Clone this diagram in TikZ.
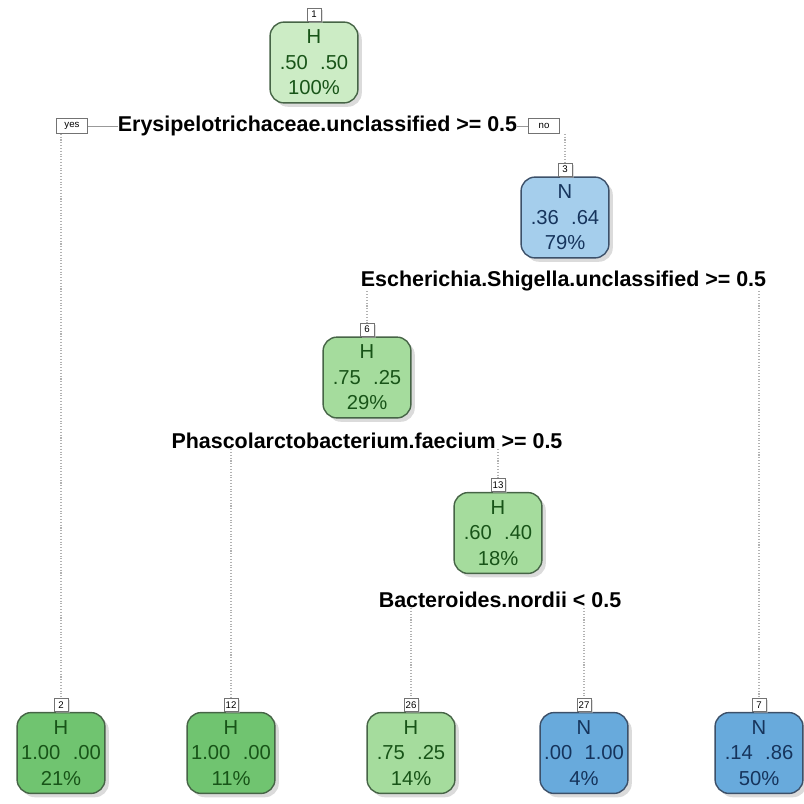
\documentclass[tikz,border=0pt]{standalone}
\usepackage{fontspec}
\setmainfont{Liberation Sans}
\usepackage{xcolor}
\usetikzlibrary{shadows}
\definecolor{gnroot}{RGB}{204,236,197}
\definecolor{gnmid}{RGB}{165,220,157}
\definecolor{gnleaf}{RGB}{112,196,112}
\definecolor{gntext}{RGB}{24,84,24}
\definecolor{gnborder}{RGB}{70,100,70}
\definecolor{blroot}{RGB}{165,206,236}
\definecolor{blleaf}{RGB}{104,170,220}
\definecolor{bltext}{RGB}{22,52,92}
\definecolor{blborder}{RGB}{60,80,105}

\begin{document}
\begin{tikzpicture}[scale=0.2]
\tikzstyle{every node}+=[inner sep=0pt]
\tikzstyle{treebox}=[draw, rounded corners=8pt, minimum width=50pt, minimum height=46pt, align=center, line width=0.8pt, font=\fontsize{11.5}{14.5}\selectfont, drop shadow={shadow xshift=2.2pt, shadow yshift=-2.2pt, fill=black!28}]
\tikzstyle{hbox}=[treebox, text=gntext, draw=gnborder]
\tikzstyle{nbox}=[treebox, text=bltext, draw=blborder]
\tikzstyle{numbox}=[draw=black!55, fill=white, minimum width=8pt, minimum height=7.5pt, font=\fontsize{5.5}{5.5}\selectfont, drop shadow={shadow xshift=1pt, shadow yshift=-1pt, fill=black!25}]
\tikzstyle{yesno}=[draw=black!55, fill=white, minimum width=18pt, minimum height=8.5pt, font=\fontsize{5.5}{6}\selectfont]
\tikzstyle{splittext}=[font=\bfseries\fontsize{12.2}{14}\selectfont]
\tikzstyle{branch}=[black!30, densely dotted, line width=0.6pt]
\useasboundingbox (0,0) rectangle (80.4,-80.3);
\node [hbox, fill=gnroot] (n1) at (31.4,-6.25) {H\\.50\hspace{7pt}.50\\100\%};
\node [nbox, fill=blroot] (n3) at (56.5,-21.75) {N\\.36\hspace{7pt}.64\\79\%};
\node [hbox, fill=gnmid] (n6) at (36.7,-37.75) {H\\.75\hspace{7pt}.25\\29\%};
\node [hbox, fill=gnmid] (n13) at (49.8,-53.3) {H\\.60\hspace{7pt}.40\\18\%};
\node [hbox, fill=gnleaf] (n2) at (6.1,-75.3) {H\\1.00\hspace{7pt}.00\\21\%};
\node [hbox, fill=gnleaf] (n12) at (23.1,-75.3) {H\\1.00\hspace{7pt}.00\\11\%};
\node [hbox, fill=gnmid] (n26) at (41.1,-75.3) {H\\.75\hspace{7pt}.25\\14\%};
\node [nbox, fill=blleaf] (n27) at (58.4,-75.3) {N\\.00\hspace{7pt}1.00\\4\%};
\node [nbox, fill=blleaf] (n7) at (75.9,-75.3) {N\\.14\hspace{7pt}.86\\50\%};
\node [numbox, anchor=south] (l1) at (n1.north) {1};
\node [numbox, anchor=south] (l3) at (n3.north) {3};
\node [numbox, anchor=south] (l6) at (n6.north) {6};
\node [numbox, anchor=south] (l13) at (n13.north) {13};
\node [numbox, anchor=south] (l2) at (n2.north) {2};
\node [numbox, anchor=south] (l12) at (n12.north) {12};
\node [numbox, anchor=south] (l26) at (n26.north) {26};
\node [numbox, anchor=south] (l27) at (n27.north) {27};
\node [numbox, anchor=south] (l7) at (n7.north) {7};
\node [splittext] (s1) at (31.75,-12.6) {Erysipelotrichaceae.unclassified >= 0.5};
\node [yesno] (yes) at (7.2,-12.6) {yes};
\node [yesno] (no) at (54.4,-12.6) {no};
\node [splittext] (s3) at (56.35,-28.1) {Escherichia.Shigella.unclassified >= 0.5};
\node [splittext] (s6) at (36.7,-44.1) {Phascolarctobacterium.faecium >= 0.5};
\node [splittext] (s13) at (50.0,-60.0) {Bacteroides.nordii < 0.5};
\draw [branch] (yes.south -| l2) -- (l2.north);
\draw [branch] (no.south -| l3) -- (l3.north);
\draw [branch] (s3.south -| l6) -- (l6.north);
\draw [branch] (s3.south -| l7) -- (l7.north);
\draw [branch] (s6.south -| l12) -- (l12.north);
\draw [branch] (s6.south -| l13) -- (l13.north);
\draw [branch] (s13.south -| l26) -- (l26.north);
\draw [branch] (s13.south -| l27) -- (l27.north);
\draw [black!40] (yes.east) -- (s1.west);
\draw [black!40] (s1.east) -- (no.west);
\end{tikzpicture}
\end{document}
